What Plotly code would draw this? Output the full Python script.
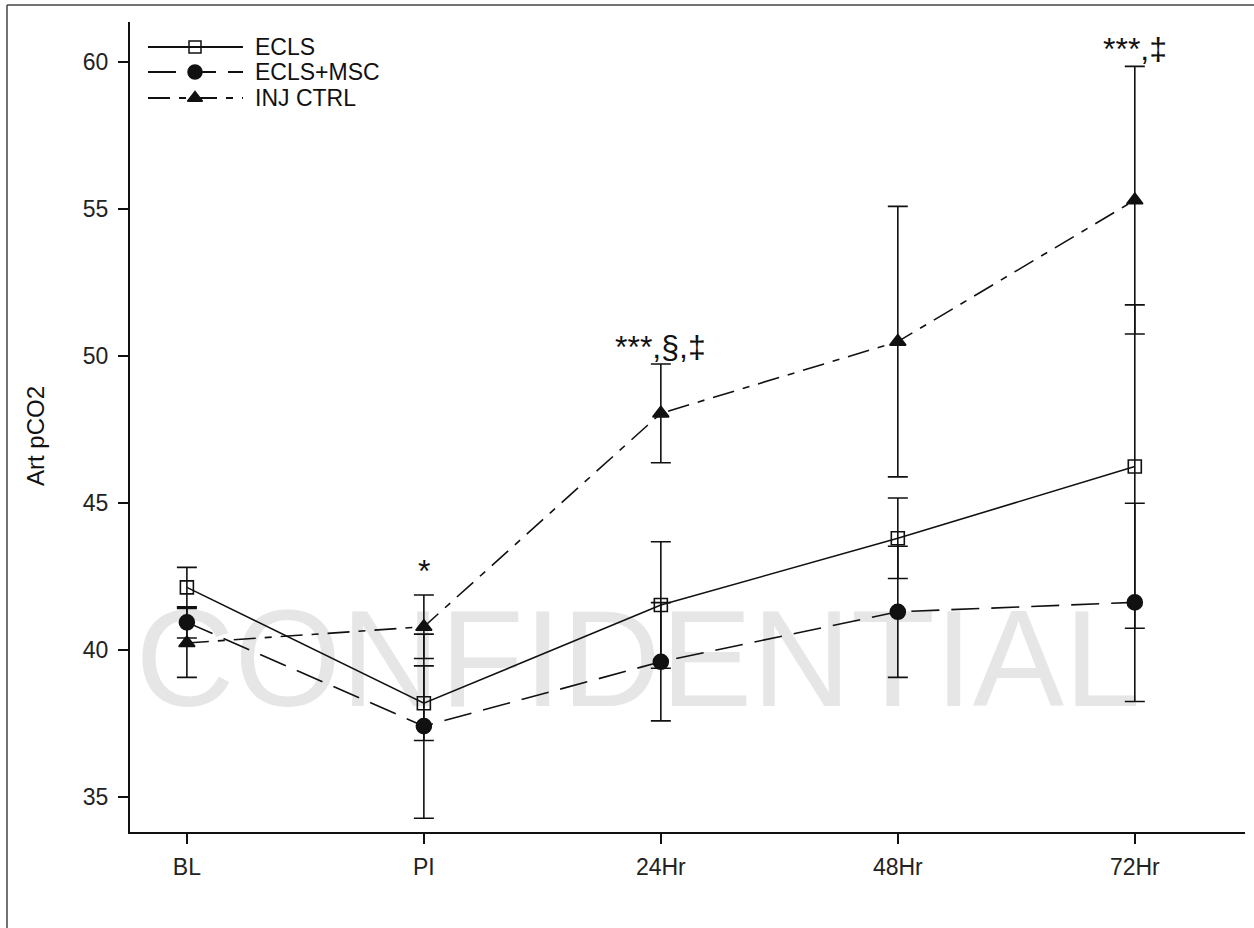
import plotly.graph_objects as go

# ---- data ----
timepoints = ["BL", "PI", "24Hr", "48Hr", "72Hr"]
ecls_mean = [42.13, 38.19, 41.53, 43.80, 46.24]
ecls_sd = [0.68, 1.27, 2.15, 1.37, 5.50]
msc_mean = [40.94, 37.41, 39.60, 41.30, 41.62]
msc_sd = [0.53, 3.13, 2.01, 2.23, 3.37]
inj_mean = [40.24, 40.79, 48.05, 50.49, 55.30]
inj_sd = [1.17, 1.08, 1.68, 4.60, 4.55]
y_ticks = [35, 40, 45, 50, 55, 60]
sig_labels = ["", "*", "***,§,‡", "", "***,‡"]

FONT = "Liberation Sans, Arial, sans-serif"
INK = "#111111"

W, H = 1254, 928
L, R, T, B = 130, 9, 22, 96
pw, ph = W - L - R, H - T - B

def px(x):
    return (x - L) / pw

def py(y):
    return (H - B - y) / ph

xs = list(range(len(timepoints)))

series = [
    ("ECLS", ecls_mean, ecls_sd, "square-open", 13, "solid"),
    ("ECLS+MSC", msc_mean, msc_sd, "circle", 15, "28px,12px"),
    ("INJ CTRL", inj_mean, inj_sd, "triangle-up", 14, "22px,9px,7px,9px"),
]

fig = go.Figure()
for name, m, sd, sym, sz, dash in series:
    fig.add_trace(go.Scatter(
        x=xs, y=m, mode="lines+markers", name=name,
        line=dict(color=INK, width=1.6, dash=dash),
        marker=dict(symbol=sym, size=sz, color=INK,
                    line=dict(color=INK, width=1.6)),
        error_y=dict(type="data", array=sd, visible=True,
                     color=INK, thickness=1.6, width=10),
        showlegend=False,
    ))

# significance labels above highest error bar
for i, lab in enumerate(sig_labels):
    if not lab:
        continue
    top = max(inj_mean[i] + inj_sd[i], ecls_mean[i] + ecls_sd[i],
              msc_mean[i] + msc_sd[i])
    fig.add_annotation(x=xs[i], y=top, text=lab, showarrow=False,
                       xref="x", yref="y", yanchor="bottom",
                       yshift=-3 if len(lab) > 1 else 4,
                       font=dict(family=FONT, size=32, color=INK))

# manual legend on an overlay axis (0..1 spans plot area)
leg_rows = [py(47), py(72), py(98)]
x0l, x1l, xm = px(148), px(243), px(195)
for (name, m, sd, sym, sz, dash), yy in zip(series, leg_rows):
    fig.add_trace(go.Scatter(
        x=[x0l, x1l], y=[yy, yy], mode="lines", xaxis="x2", yaxis="y2",
        line=dict(color=INK, width=1.8, dash=dash), showlegend=False,
        hoverinfo="skip"))
    fig.add_trace(go.Scatter(
        x=[xm], y=[yy], mode="markers", xaxis="x2", yaxis="y2",
        marker=dict(symbol=sym, size=sz - 1, color=INK,
                    line=dict(color=INK, width=1.5)),
        showlegend=False, hoverinfo="skip"))
    fig.add_annotation(x=px(253), y=yy, xref="paper", yref="paper",
                       text=name, showarrow=False, xanchor="left",
                       yanchor="middle",
                       font=dict(family=FONT, size=23, color=INK))

# y-axis title
fig.add_annotation(x=px(36), y=py(436), xref="paper", yref="paper",
                   text="Art pCO2", textangle=-90, showarrow=False,
                   xanchor="center", yanchor="middle",
                   font=dict(family=FONT, size=24, color=INK))

# watermark (below data)
fig.add_shape(type="rect", xref="paper", yref="paper",
              x0=px(100), x1=px(1176), y0=py(724), y1=py(567),
              line=dict(width=0), fillcolor="rgba(0,0,0,0)", layer="below",
              label=dict(text="CONFIDENTIAL", textposition="middle center",
                         font=dict(family=FONT, size=137, color="#e6e6e6")))

# outer frame (top and left)
fig.add_shape(type="line", xref="paper", yref="paper",
              x0=px(7), x1=px(1254), y0=py(5), y1=py(5),
              line=dict(color="#444444", width=1.5))
fig.add_shape(type="line", xref="paper", yref="paper",
              x0=px(7), x1=px(7), y0=py(5), y1=py(928),
              line=dict(color="#444444", width=1.5))

fig.update_layout(
    width=W, height=H,
    margin=dict(l=L, r=R, t=T, b=B),
    plot_bgcolor="white", paper_bgcolor="white",
    font=dict(family=FONT, color=INK),
    xaxis=dict(
        range=[-0.24, 4.465], tickvals=xs, ticktext=timepoints,
        showline=True, linecolor=INK, linewidth=2, mirror=False,
        ticks="outside", ticklen=10, tickwidth=1.5, tickcolor=INK,
        showgrid=False, zeroline=False,
        tickfont=dict(family=FONT, size=23, color="#222222"),
        ticklabelstandoff=3,
    ),
    yaxis=dict(
        range=[33.81, 61.36], tickvals=y_ticks,
        showline=True, linecolor=INK, linewidth=2,
        ticks="outside", ticklen=10, tickwidth=1.5, tickcolor=INK,
        showgrid=False, zeroline=False,
        tickfont=dict(family=FONT, size=23, color="#222222"),
        ticklabelstandoff=5,
    ),
    xaxis2=dict(overlaying="x", range=[0, 1], visible=False),
    yaxis2=dict(overlaying="y", range=[0, 1], visible=False),
    showlegend=False,
)

fig.write_html("out.html")
